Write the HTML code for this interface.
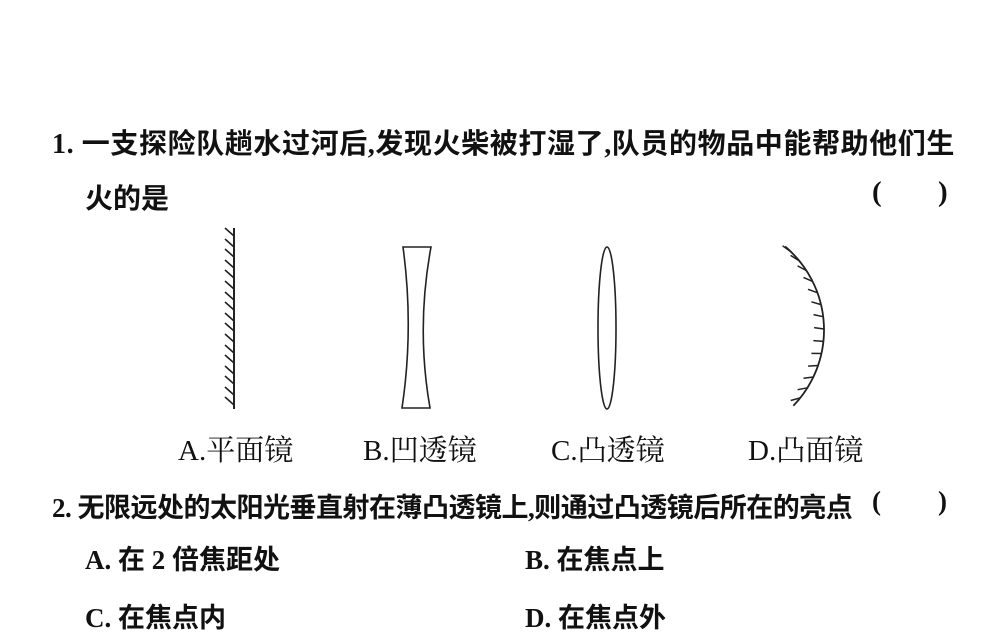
<!DOCTYPE html>
<html><head><meta charset="utf-8"><style>
html,body{margin:0;padding:0;background:#fff;}
body{width:1000px;height:600px;position:relative;overflow:hidden;font-family:"Liberation Serif","Noto Serif CJK SC","Noto Sans CJK SC",serif;color:#111;}
.t{position:absolute;white-space:nowrap;}
.b{font-family:"Liberation Serif","Noto Sans CJK SC",sans-serif;font-weight:bold;}
</style></head><body>
<div class="t b" style="left:52px;top:122px;font-size:28px;letter-spacing:0.6px;">1. 一支探险队趟水过河后,发现火柴被打湿了,队员的物品中能帮助他们生</div>
<div class="t b" style="left:85px;top:177px;font-size:28px;">火的是</div>
<div class="t b" style="left:872px;top:176px;font-size:29px;">(</div>
<div class="t b" style="left:938px;top:176px;font-size:29px;">)</div>

<svg style="position:absolute;left:0;top:0" width="1000" height="600">
<g stroke="#222" stroke-width="2" fill="none">
<line x1="234" y1="228" x2="234" y2="409"/>
<path stroke-width="1.6" d="M225 228 l9 8 M225 239 l9 8 M225 249 l9 8 M225 260 l9 8 M225 270 l9 8 M225 281 l9 8 M225 292 l9 8 M225 302 l9 8 M225 313 l9 8 M225 323 l9 8 M225 334 l9 8 M225 345 l9 8 M225 355 l9 8 M225 366 l9 8 M225 376 l9 8 M225 387 l9 8 M225 397 l9 8"/>
<path stroke-width="1.6" d="M403 247 L431 247 Q416 328 430 408 L402 408 Q414 328 403 247 Z"/>
<ellipse cx="607" cy="328" rx="9" ry="81" stroke-width="1.6"/>
<path stroke-width="1.8" d="M785.1 246.5 A109 109 0 0 1 793.4 405.7"/>
<path stroke-width="1.5" d="M790.7 251.6 L782.6 245.8 M799.1 260.7 L790.6 255.4 M806.4 270.6 L797.6 265.9 M812.6 281.4 L803.5 277.4 M817.4 292.7 L808 289.3 M821 304.6 L811.4 301.8 M823.2 316.7 L813.5 314.6 M824 329 L814.1 327.6 M823.4 341.4 L813.4 340.6 M821.4 353.5 L811.4 353.4 M818.1 365.5 L808.1 366.1 M813.4 377 L803.5 378.3 M807.4 387.8 L797.6 389.7 M800.3 397.9 L790.7 400.5"/>
</g>
</svg>

<div class="t" style="left:178px;top:428px;font-size:29px;">A.平面镜</div>
<div class="t" style="left:363px;top:428px;font-size:29px;">B.凹透镜</div>
<div class="t" style="left:551px;top:428px;font-size:29px;">C.凸透镜</div>
<div class="t" style="left:748px;top:428px;font-size:29px;">D.凸面镜</div>

<div class="t b" style="left:52px;top:486px;font-size:27px;letter-spacing:-0.5px;">2. 无限远处的太阳光垂直射在薄凸透镜上,则通过凸透镜后所在的亮点</div>
<div class="t b" style="left:872px;top:486px;font-size:27px;">(</div>
<div class="t b" style="left:938px;top:486px;font-size:27px;">)</div>
<div class="t b" style="left:85px;top:538px;font-size:27px;">A. 在 2 倍焦距处</div>
<div class="t b" style="left:525px;top:538px;font-size:27px;">B. 在焦点上</div>
<div class="t b" style="left:85px;top:596px;font-size:27px;">C. 在焦点内</div>
<div class="t b" style="left:525px;top:596px;font-size:27px;">D. 在焦点外</div>
</body></html>
